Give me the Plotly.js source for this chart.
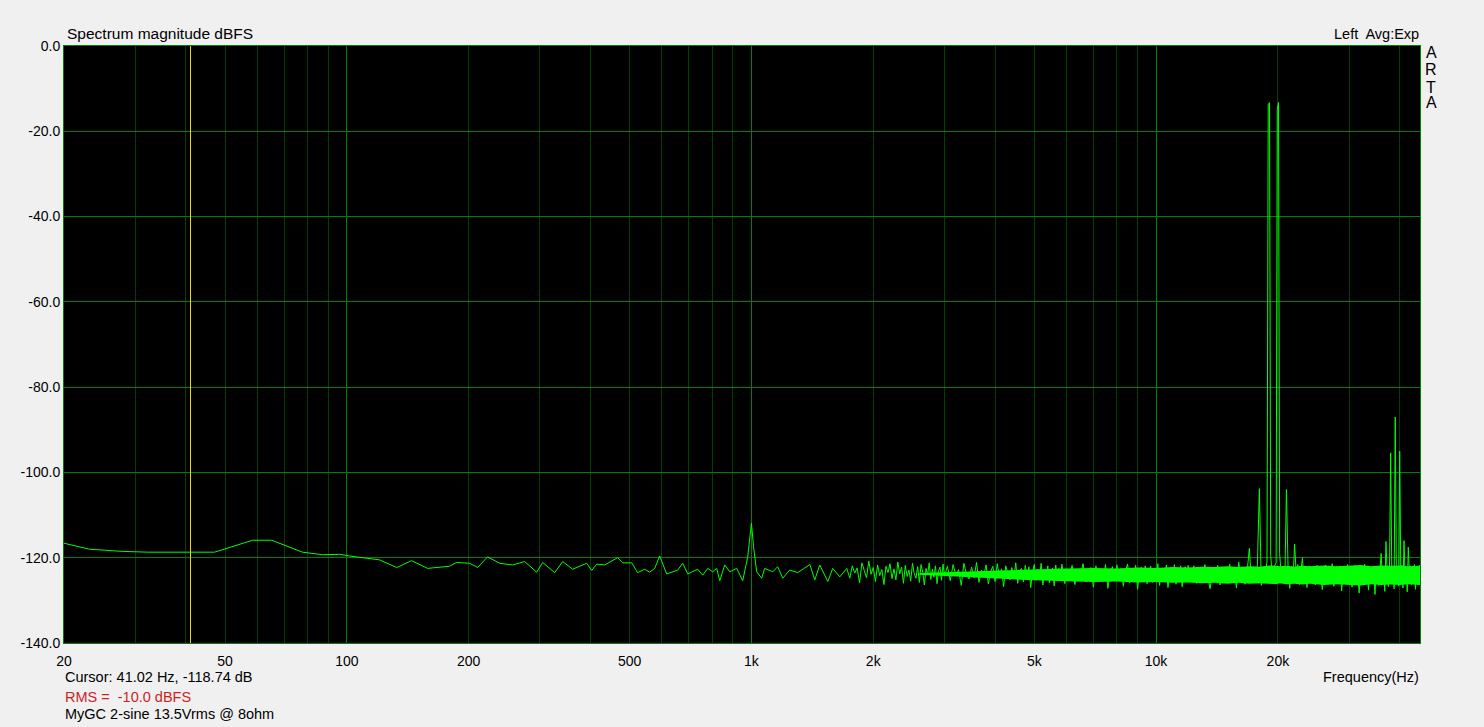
<!DOCTYPE html>
<html><head><meta charset="utf-8">
<script src="https://cdn.plot.ly/plotly-3.0.1.min.js"></script>
<style>html,body{margin:0;padding:0;background:#f0f0f0;}#chart{width:1484px;height:727px;}
#chart .tracecursor path.js-line{shape-rendering:crispEdges;}</style>
</head><body><div id="chart"></div>
<script>
// ---- Spectrum data (Hz, dBFS) ----
const lowFreq = [20,23.1,27.7,32.2,47.1,58.5,65.2,77.7,87.1,96,101.6,120.5,132.8,144.6,158.4,179.5,186.8,201.2,210.6,222.8,238.6,256.9,275.1,294.6,304.8,326.3,341.6,361.6,391.6,402.9,414.5,433.8,467.0,480.5,505.8,523.4,544.7,560.4,576.6,593.2,617.4,657.3,676.3,695.8,736.6,757.8,779.7,802.2,820.7,834.9,858.9,883.7,919.6,951.6,978.9,990,1000,1012,1030,1060,1078,1129,1161,1195,1243,1301,1394,1434,1475,1544,1588,1653,1720];
const lowDb = [-116.6,-118.0,-118.5,-118.7,-118.7,-115.9,-115.9,-118.7,-119.3,-119.2,-119.6,-120.5,-122.3,-120.7,-122.5,-122.0,-121.1,-121.3,-122.3,-119.8,-121.3,-121.7,-120.9,-123.4,-121.1,-123.5,-120.9,-122.7,-121.3,-123.0,-121.5,-121.7,-120.0,-121.2,-121.2,-123.5,-122.7,-123.4,-122.5,-119.6,-123.8,-122.9,-121.3,-123.8,-122.7,-124.1,-122.5,-123.3,-122.5,-125.4,-121.7,-123.3,-122.5,-125.4,-119.8,-116.0,-111.9,-117.4,-123.3,-124.8,-122.5,-123.3,-122.1,-124.8,-122.9,-123.5,-121.6,-125.2,-121.7,-125.6,-122.5,-124.5,-122.5];

const mid1Freq = [1750,1775,1800,1825,1850,1875,1900,1925,1950,1975,2000,2025,2050,2075,2100,2125,2150,2175,2200,2225,2250,2275,2300,2325,2350,2375,2400,2425,2450,2475,2500,2525,2550,2575,2600,2625,2650,2675,2700,2725,2750,2775,2800,2825,2850,2875,2900,2925,2950,2975,3000];
const mid1Db = [-124.8,-121.9,-123.6,-122.4,-125.9,-121.2,-123.0,-124.7,-120.8,-123.9,-122.3,-125.6,-121.7,-124.2,-122.8,-126.3,-122.0,-123.5,-121.4,-124.9,-122.6,-125.2,-121.0,-123.8,-122.2,-126.0,-121.8,-124.4,-122.9,-125.5,-121.3,-123.7,-124.8,-122.1,-125.8,-121.6,-123.4,-126.4,-122.5,-124.0,-121.2,-125.1,-122.7,-124.6,-121.9,-126.1,-123.0,-122.2,-125.3,-121.5,-124.3];

const mid2Freq = [3050,3100,3150,3200,3250,3300,3350,3400,3450,3500,3550,3600,3650,3700,3750,3800,3850,3900,3950,4000,4050,4100,4150,4200,4250,4300,4350,4400,4450,4500,4550,4600,4650,4700,4750,4800,4850,4900,4950,5000,5050,5100,5150,5200,5250,5300,5350,5400,5450,5500,5550,5600,5650,5700,5750,5800,5850,5900,5950,6000];
const mid2Db = [-122.0,-125.4,-121.6,-124.1,-122.8,-126.5,-121.3,-123.9,-125.0,-122.2,-124.7,-121.1,-125.8,-122.9,-124.2,-121.7,-126.2,-123.3,-122.0,-125.6,-121.4,-124.5,-122.6,-126.8,-121.9,-123.7,-125.2,-122.3,-124.9,-121.2,-126.0,-123.1,-122.5,-125.7,-121.8,-124.3,-122.1,-127.0,-123.4,-121.6,-125.3,-122.7,-124.6,-121.3,-126.4,-122.9,-124.0,-121.9,-125.9,-123.2,-122.4,-126.6,-121.7,-124.8,-122.5,-125.4,-121.5,-123.8,-126.1,-122.6];

const mid3Freq = [6100,6200,6300,6400,6500,6600,6700,6800,6900,7000,7100,7200,7300,7400,7500,7600,7700,7800,7900,8000,8100,8200,8300,8400,8500,8600,8700,8800,8900,9000,9100,9200,9300,9400,9500,9600,9700,9800,9900,10000,10100,10200,10300,10400,10500,10600,10700,10800,10900,11000,11100,11200,11300,11400,11500,11600,11700,11800,11900,12000];
const mid3Db = [-124.9,-121.8,-126.3,-122.7,-124.2,-121.4,-125.7,-123.0,-122.3,-126.9,-121.9,-124.6,-122.8,-125.5,-121.6,-127.2,-123.4,-122.1,-125.1,-121.7,-124.8,-122.5,-126.7,-123.1,-121.5,-125.9,-122.9,-124.4,-121.8,-127.4,-123.6,-122.2,-125.3,-121.9,-126.1,-123.3,-122.0,-125.8,-122.6,-124.9,-121.4,-126.5,-123.0,-122.4,-125.6,-121.7,-127.0,-123.5,-122.3,-124.7,-121.6,-126.2,-122.8,-125.2,-121.9,-126.8,-123.4,-122.1,-125.0,-121.8];

// two-tone region (19 kHz + 20 kHz with IMD products)
const toneFreq = [12200,12400,12600,12800,13000,13200,13400,13600,13800,14000,14200,14400,14600,14800,15000,15200,15400,15600,15800,16000,16200,16400,16600,16800,17000,17200,17400,17600,17800,18000,18200,18400,18600,18800,18930,19070,19200,19400,19600,19800,19930,20070,20200,20400,20600,20800,21000,21200,21400,21600,21800,22000,22200,22400,22600,22800,23000,23200,23400,23600,23800,24000];
const toneDb = [-124.6,-121.9,-126.0,-122.7,-125.3,-121.6,-124.2,-127.3,-122.4,-125.0,-121.8,-126.4,-123.1,-122.2,-125.7,-121.5,-124.8,-122.6,-127.1,-121.0,-124.5,-122.3,-126.2,-123.0,-117.8,-125.4,-122.1,-124.9,-121.7,-103.8,-126.5,-122.5,-124.3,-120.8,-13.6,-13.3,-119.5,-125.1,-122.0,-121.2,-14.8,-13.2,-119.0,-124.7,-122.4,-126.0,-104.0,-123.3,-127.2,-122.0,-125.2,-116.8,-123.9,-121.6,-126.3,-122.8,-120.0,-125.6,-122.2,-127.0,-123.4,-121.9];

const highFreq = [24250,24500,24750,25000,25250,25500,25750,26000,26250,26500,26750,27000,27250,27500,27750,28000,28250,28500,28750,29000,29250,29500,29750,30000,30250,30500,30750,31000,31250,31500,31750,32000,32250,32500,32750,33000,33250,33500,33750,34000,34250,34500,34750,35000,35250,35500,35750,36000,36250,36500,36750,37000,37250,37500,37750,38000,38250,38500,38750,39000,39250,39500,39750,40000,40250,40500,40750,41000,41250,41500,41750,42000,42250,42500,42750,43000,43250,43500,43750,44000,44250,44500,44750,44900];
const highDb = [-125.1,-122.3,-126.4,-121.8,-124.6,-122.9,-127.5,-123.2,-121.7,-125.8,-122.5,-124.9,-121.4,-126.7,-123.6,-122.0,-125.3,-121.9,-127.8,-123.1,-122.4,-125.9,-121.6,-124.7,-122.8,-126.9,-123.3,-121.8,-125.5,-122.6,-128.3,-123.8,-122.1,-126.2,-121.5,-124.4,-122.9,-127.6,-123.5,-122.2,-125.7,-121.9,-128.6,-123.0,-122.5,-126.5,-121.7,-119.0,-125.2,-122.4,-127.9,-116.2,-123.7,-126.8,-122.0,-95.4,-125.0,-122.6,-127.3,-87.0,-124.2,-122.1,-126.6,-95.0,-123.9,-121.8,-127.1,-116.0,-124.5,-122.3,-128.0,-117.5,-123.4,-121.9,-126.3,-122.7,-125.6,-121.6,-127.4,-123.0,-122.2,-125.9,-121.8,-124.6];

// solid core of the dense noise floor (upper / lower edge of the filled band)
const coreFreq = [2600,3000,3500,4000,4500,5000,5500,6000,7000,8000,9000,10000,11000,12000,13000,14000,15000,16000,17000,18000,18800,19200,19800,20200,21000,22000,23000,24000,26000,28000,30000,32000,34000,36000,38000,40000,42000,44900];
const coreHi = [-123.6,-123.4,-123.2,-123.0,-122.9,-122.7,-122.6,-122.5,-122.4,-122.5,-122.3,-122.4,-122.2,-122.3,-122.1,-122.2,-122.0,-122.2,-122.0,-122.1,-121.9,-121.8,-121.9,-122.0,-121.9,-122.1,-121.9,-122.0,-121.8,-122.0,-121.9,-121.7,-122.0,-121.8,-121.9,-121.8,-122.0,-121.9];
const coreLo = [-124.0,-124.3,-124.6,-124.9,-125.1,-125.3,-125.4,-125.6,-125.7,-125.6,-125.8,-125.7,-125.9,-125.8,-126.0,-125.9,-126.1,-125.9,-126.1,-126.0,-126.2,-126.1,-126.2,-126.0,-126.2,-126.1,-126.3,-126.1,-126.4,-126.2,-126.3,-126.5,-126.2,-126.4,-126.3,-126.4,-126.2,-126.4];

const cursorFreq = [41.02, 41.02];
const cursorDb = [-140, 0];

const xTickVals = [20,50,100,200,500,1000,2000,5000,10000,20000];
const xTickText = ['20','50','100','200','500','1k','2k','5k','10k','20k'];
const decadeVals = [100,1000,10000];
const minorVals = [30,40,50,60,70,80,90,200,300,400,500,600,700,800,900,2000,3000,4000,5000,6000,7000,8000,9000,20000,30000,40000];
const yTickVals = [-140,-120,-100,-80,-60,-40,-20,0];
const yTickText = ['-140.0','-120.0','-100.0','-80.0','-60.0','-40.0','-20.0','0.0'];

const freq = [].concat(lowFreq, mid1Freq, mid2Freq, mid3Freq, toneFreq, highFreq);
const mag = [].concat(lowDb, mid1Db, mid2Db, mid3Db, toneDb, highDb);
const bandX = coreFreq.concat(coreFreq.slice().reverse());
const bandY = coreHi.concat(coreLo.slice().reverse());

const FONT = 'Liberation Sans, Arial, sans-serif';
const xRange = [Math.log10(20), Math.log10(44900)];
const BRIGHT = '#008000', DARK = '#004000', TRACE = '#00ff00';

const traces = [
  {x: bandX, y: bandY, type: 'scatter', mode: 'lines', fill: 'toself', fillcolor: TRACE, line: {width: 0, color: TRACE}, hoverinfo: 'skip', xaxis: 'x', yaxis: 'y', uid: 'band'},
  {x: freq, y: mag, type: 'scatter', mode: 'lines', line: {color: TRACE, width: 1}, hoverinfo: 'skip', xaxis: 'x', yaxis: 'y', uid: 'spectrum'},
  {x: cursorFreq, y: cursorDb, type: 'scatter', mode: 'lines', line: {color: '#e8dc00', width: 1}, hoverinfo: 'skip', xaxis: 'x2', yaxis: 'y', uid: 'cursor'}
];

// paper coordinate helpers (plot area 64..1420 x, 46..643 y)
const px = v => (v - 64) / 1356;
const py = v => (643 - v) / 597;

const ann = (text, x, y, xanchor, size, color) => ({
  text: text, x: px(x), y: py(y), xref: 'paper', yref: 'paper',
  xanchor: xanchor, yanchor: 'middle', showarrow: false,
  font: {family: FONT, size: size, color: color || '#000'}
});

const layout = {
  width: 1484, height: 727,
  paper_bgcolor: '#f0f0f0', plot_bgcolor: '#000000',
  margin: {l: 64, r: 64, t: 46, b: 84},
  showlegend: false,
  font: {family: FONT, size: 14, color: '#000'},
  xaxis: {
    type: 'log', range: xRange, autorange: false,
    tickmode: 'array', tickvals: decadeVals, showticklabels: false, ticks: '',
    showgrid: true, gridcolor: BRIGHT, gridwidth: 1,
    minor: {tickmode: 'array', tickvals: minorVals, showgrid: true, gridcolor: DARK, gridwidth: 1, ticks: ''},
    showline: true, mirror: true, linecolor: BRIGHT, linewidth: 1, zeroline: false
  },
  xaxis2: {
    type: 'log', range: xRange, autorange: false, overlaying: 'x', anchor: 'y', side: 'bottom',
    tickmode: 'array', tickvals: xTickVals, ticktext: xTickText, ticks: '', ticklabelstandoff: 8,
    showgrid: false, showline: false, zeroline: false,
    tickfont: {family: FONT, size: 14, color: '#000'}
  },
  yaxis: {
    range: [-140, 0], autorange: false,
    tickmode: 'array', tickvals: yTickVals, ticktext: yTickText, ticks: '',
    showgrid: true, gridcolor: BRIGHT, gridwidth: 1,
    showline: true, mirror: true, linecolor: BRIGHT, linewidth: 1, zeroline: false,
    tickfont: {family: FONT, size: 14, color: '#000'}
  },
  annotations: [
    ann('Spectrum magnitude dBFS', 65, 34, 'left', 15.5),
    ann('Left\u00a0 Avg:Exp', 1421, 34, 'right', 14.5),
    ann('A', 1431, 53, 'center', 16),
    ann('R', 1431, 70, 'center', 16),
    ann('T', 1431, 87, 'center', 16),
    ann('A', 1431, 103, 'center', 16),
    ann('Cursor: 41.02 Hz, -118.74 dB', 63, 677, 'left', 14.5),
    ann('RMS =\u00a0 -10.0 dBFS', 63, 697, 'left', 14.5, '#cc1f1f'),
    ann('MyGC 2-sine 13.5Vrms @ 8ohm', 63, 714, 'left', 14.5),
    ann('Frequency(Hz)', 1421, 677, 'right', 14.5)
  ]
};

Plotly.newPlot('chart', traces, layout, {displayModeBar: false, staticPlot: true});
</script>
</body></html>
